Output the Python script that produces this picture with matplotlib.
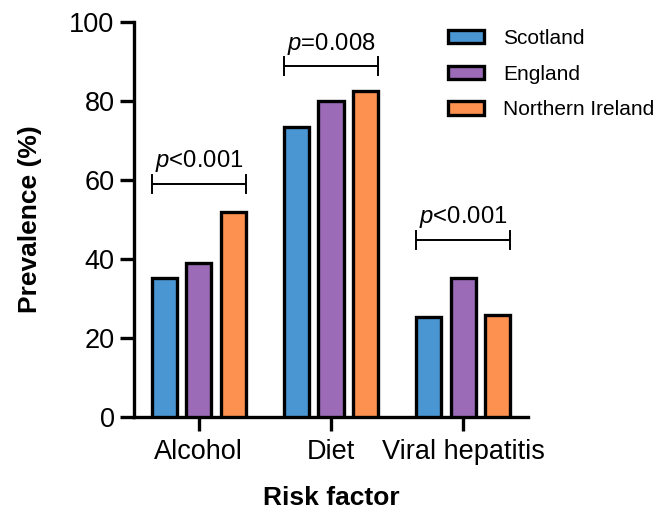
import matplotlib
matplotlib.use("Agg")
import matplotlib.pyplot as plt
import numpy as np

plt.rcParams["font.family"] = ["Liberation Sans", "DejaVu Sans"]
plt.rcParams["mathtext.fontset"] = "custom"
plt.rcParams["mathtext.rm"] = "Liberation Sans"
plt.rcParams["mathtext.it"] = "Liberation Sans:italic"

# Data
risk_factors = ["Alcohol", "Diet", "Viral hepatitis"]
countries = ["Scotland", "England", "Northern Ireland"]
scotland = [35.2, 73.5, 25.3]
england = [39.0, 80.0, 35.2]
northern_ireland = [51.8, 82.5, 25.8]
p_labels = ["$\\it{p}$<0.001", "$\\it{p}$=0.008", "$\\it{p}$<0.001"]
bracket_y = [59.0, 88.8, 44.8]

colors = ["#4a96d2", "#9b6bb8", "#fd9150"]

fig = plt.figure(figsize=(6.65, 5.11), dpi=100)
ax = fig.add_axes([134 / 665, 1 - 417 / 511, 394 / 665, 395 / 511])

x = np.arange(len(risk_factors))
offset = 0.26
width = 0.19
for i, (vals, name) in enumerate(zip([scotland, england, northern_ireland], countries)):
    ax.bar(x + (i - 1) * offset, vals, width, color=colors[i], edgecolor="black",
           linewidth=2.4, label=name, zorder=3)

# significance brackets
cap = 2.3
half = offset + width / 2
for xi, yb, lab in zip(x, bracket_y, p_labels):
    ax.plot([xi - half, xi + half], [yb, yb], color="black", lw=1.4, zorder=4,
            solid_capstyle="butt")
    for xe in (xi - half, xi + half):
        ax.plot([xe, xe], [yb - cap, yb + cap], color="black", lw=1.4, zorder=4)
    ax.annotate(lab, (xi, yb), xytext=(0, 12), textcoords="offset points",
                ha="center", va="baseline", fontsize=17.2)

ax.set_xlim(-0.49, 2.49)
ax.set_ylim(0, 100)
ax.set_yticks([0, 20, 40, 60, 80, 100])
ax.set_xticks(x)
ax.set_xticklabels(risk_factors)
ax.tick_params(axis="both", labelsize=19.5, width=2.4, length=10)
ax.tick_params(axis="y", pad=4)
ax.tick_params(axis="x", pad=6)

for side in ("top", "right"):
    ax.spines[side].set_visible(False)
for side in ("left", "bottom"):
    ax.spines[side].set_linewidth(2.4)

ax.set_xlabel("Risk factor", fontsize=19, fontweight="bold", labelpad=15)
ax.set_ylabel("Prevalence (%)", fontsize=19, fontweight="bold", labelpad=20)

leg = ax.legend(loc="upper left", bbox_to_anchor=(448 / 665, 1 - 29 / 511),
                bbox_transform=fig.transFigure, frameon=False, fontsize=15,
                handlelength=1.75, handleheight=0.62, handletextpad=0.9,
                labelspacing=0.8, borderpad=0, borderaxespad=0)

fig.savefig("out.png", dpi=100, facecolor="white")
